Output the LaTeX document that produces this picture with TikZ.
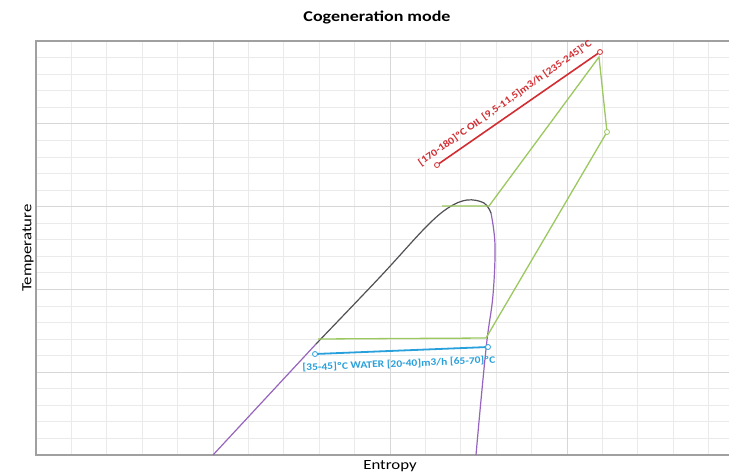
\documentclass[tikz,border=0pt]{standalone}
\usepackage{fontspec}
\setmainfont{Carlito}
\begin{document}
\begin{tikzpicture}[x=1pt,y=-1pt,
  minorgrid/.style={draw={rgb,255:red,234;green,234;blue,234},line width=0.8pt},
  majorgrid/.style={draw={rgb,255:red,215;green,215;blue,215},line width=1pt},
  frameline/.style={draw={rgb,255:red,160;green,160;blue,160},line width=1.6pt},
  domeline/.style={draw={rgb,255:red,150;green,100;blue,190},line width=1.2pt},
  liqline/.style={draw={rgb,255:red,80;green,80;blue,85},line width=1.2pt},
  cycleline/.style={draw={rgb,255:red,155;green,200;blue,95},line width=1.3pt},
  oilline/.style={draw={rgb,255:red,210;green,45;blue,50},line width=1.6pt},
  waterline/.style={draw={rgb,255:red,40;green,160;blue,220},line width=1.8pt},
  ptmark/.style={circle,fill=white,inner sep=0pt,minimum size=5pt,line width=0.8pt},
  titlelbl/.style={font=\bfseries\fontsize{15}{17}\selectfont,inner sep=0pt},
  axislbl/.style={font=\fontsize{14}{16}\selectfont,inner sep=0pt},
  smalllbl/.style={font=\bfseries\fontsize{10}{12}\selectfont,inner sep=0pt}
]
\useasboundingbox (0,0) rectangle (729,475);
\fill[white] (0,0) rectangle (729,475);
% grid
\foreach \i in {1,...,19} {
  \pgfmathsetmacro{\xx}{36+35.4*\i}
  \draw[minorgrid] (\xx,41) -- (\xx,455);
}
\foreach \j in {1,...,24} {
  \pgfmathsetmacro{\yy}{41+16.56*\j}
  \draw[minorgrid] (36,\yy) -- (729,\yy);
}
\foreach \i in {5,10,15} {
  \pgfmathsetmacro{\xx}{36+35.4*\i}
  \draw[majorgrid] (\xx,41) -- (\xx,455);
}
\foreach \j in {5,10,15,20} {
  \pgfmathsetmacro{\yy}{41+16.56*\j}
  \draw[majorgrid] (36,\yy) -- (729,\yy);
}
% frame
\draw[frameline] (730,41) -- (36,41) -- (36,455) -- (730,455);
% titles
\node[titlelbl] (title) at (377,17) {\scalebox{1.2}[1]{Cogeneration mode}};
\node[axislbl] (xlab) at (390,466) {\scalebox{1.2}[1]{Entropy}};
\node[axislbl,rotate=90] (ylab) at (28,248) {\scalebox{1.2}[1]{Temperature}};
% saturation dome
\coordinate (d0) at (213,455);
\coordinate (d1) at (316,344);
\draw[domeline] (d0) -- (d1);
\draw[liqline] plot[smooth,tension=0.6] coordinates {(316,344) (380,277) (425,228) (448,208) (467,200) (484,203) (491,213)};
\draw[domeline] plot[smooth,tension=0.6] coordinates {(491,213) (495,245) (493,295) (487,340) (481,400) (476,455)};
% cycle
\coordinate (c1) at (318,339);
\coordinate (c2) at (486,338);
\coordinate (c3) at (607,132);
\coordinate (c4) at (599,57);
\coordinate (c5) at (489,206);
\coordinate (c6) at (442,206);
\draw[cycleline] (c1) -- (c2) -- (c3) -- (c4) -- (c5) -- (c6);
\node[ptmark,draw={rgb,255:red,155;green,200;blue,95}] (g3) at (c3) {};
% oil line
\coordinate (o1) at (437,165);
\coordinate (o2) at (600,52);
\draw[oilline] (o1) -- (o2);
\node[ptmark,draw={rgb,255:red,210;green,45;blue,50}] (om1) at (o1) {};
\node[ptmark,draw={rgb,255:red,210;green,45;blue,50}] (om2) at (o2) {};
\node[smalllbl,rotate=35.3,text={rgb,255:red,210;green,45;blue,50}] (oillbl) at (505,103) {\scalebox{1.15}[1]{[170-180]ºC OIL [9,5-11,5]m3/h [235-245]ºC}};
% water line
\coordinate (w1) at (315,354);
\coordinate (w2) at (488,347);
\draw[waterline] (w1) -- (w2);
\node[ptmark,draw={rgb,255:red,40;green,160;blue,220}] (wm1) at (w1) {};
\node[ptmark,draw={rgb,255:red,40;green,160;blue,220}] (wm2) at (w2) {};
\node[smalllbl,rotate=2.3,text={rgb,255:red,40;green,160;blue,220}] (watlbl) at (399,364) {\scalebox{1.15}[1]{[35-45]ºC WATER [20-40]m3/h [65-70]ºC}};
\end{tikzpicture}
\end{document}
